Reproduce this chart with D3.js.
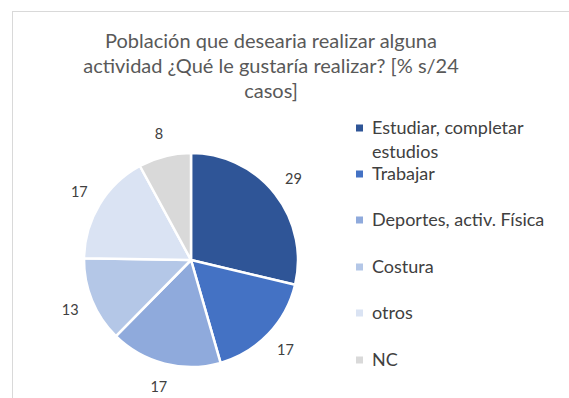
<!DOCTYPE html>
<html>
<head>
<meta charset="utf-8">
<script src="https://cdn.jsdelivr.net/npm/d3@7"></script>
<style>
  html, body { margin: 0; padding: 0; background: #fff; }
  svg { display: block; }
  text { font-family: Lato, "Open Sans", sans-serif; fill: #595959; }
</style>
</head>
<body>
<svg id="chart" width="569" height="398"></svg>
<script>
// Data
const categories = ["Estudiar, completar estudios", "Trabajar", "Deportes, activ. Física", "Costura", "otros", "NC"];
const values = [29, 17, 17, 13, 17, 8];
const colors = ["#2F5597", "#4472C4", "#8FAADC", "#B4C7E7", "#DAE3F3", "#D9D9D9"];
const titleLines = ["Población que desearia realizar alguna", "actividad ¿Qué le gustaría realizar? [% s/24", "casos]"];
const legendLines = [["Estudiar, completar", "estudios"], ["Trabajar"], ["Deportes, activ. Física"], ["Costura"], ["otros"], ["NC"]];

const W = 569, H = 398;
const svg = d3.select("#chart");

// chart frame
svg.append("rect")
  .attr("x", 12.5).attr("y", 11.5)
  .attr("width", W).attr("height", H)
  .attr("fill", "#fff").attr("stroke", "#d9d9d9").attr("stroke-width", 1);

// title
const title = svg.append("text")
  .attr("text-anchor", "middle")
  .style("font-size", "20px")
  .style("fill", "#595959");
titleLines.forEach((t, i) => {
  title.append("tspan").attr("x", 271).attr("y", 48 + i * 25).text(t);
});

// pie
const cx = 191, cy = 260, r = 107;
const pie = d3.pie().sort(null).value(d => d.v);
const arcs = pie(values.map((v, i) => ({ v, c: colors[i], name: categories[i] })));
const arc = d3.arc().innerRadius(0).outerRadius(r);
const labelArc = d3.arc().innerRadius(r * 1.22).outerRadius(r * 1.22);

const g = svg.append("g").attr("transform", `translate(${cx},${cy})`);
g.selectAll("path.slice")
  .data(arcs)
  .join("path")
  .attr("class", "slice")
  .attr("d", arc)
  .attr("fill", d => d.data.c)
  .attr("stroke", "#fff")
  .attr("stroke-width", 2.5)
  .attr("stroke-linejoin", "round");

g.selectAll("text.lbl")
  .data(arcs)
  .join("text")
  .attr("class", "lbl")
  .attr("transform", d => `translate(${labelArc.centroid(d)})`)
  .attr("text-anchor", "middle")
  .attr("dy", "0.35em")
  .style("font-size", "14.5px")
  .style("fill", "#404040")
  .text(d => d.data.v);

// legend
const legendY = [128, 174, 220, 267, 313, 360];
const lg = svg.append("g");
legendLines.forEach((lines, i) => {
  const y = legendY[i];
  lg.append("rect")
    .attr("x", 356).attr("y", y - 3.5)
    .attr("width", 7).attr("height", 7)
    .attr("fill", colors[i]);
  lines.forEach((t, j) => {
    lg.append("text")
      .attr("x", 372).attr("y", y + j * 24)
      .attr("dy", "0.35em")
      .style("font-size", "18px")
      .style("fill", "#404040")
      .text(t);
  });
});
</script>
</body>
</html>
